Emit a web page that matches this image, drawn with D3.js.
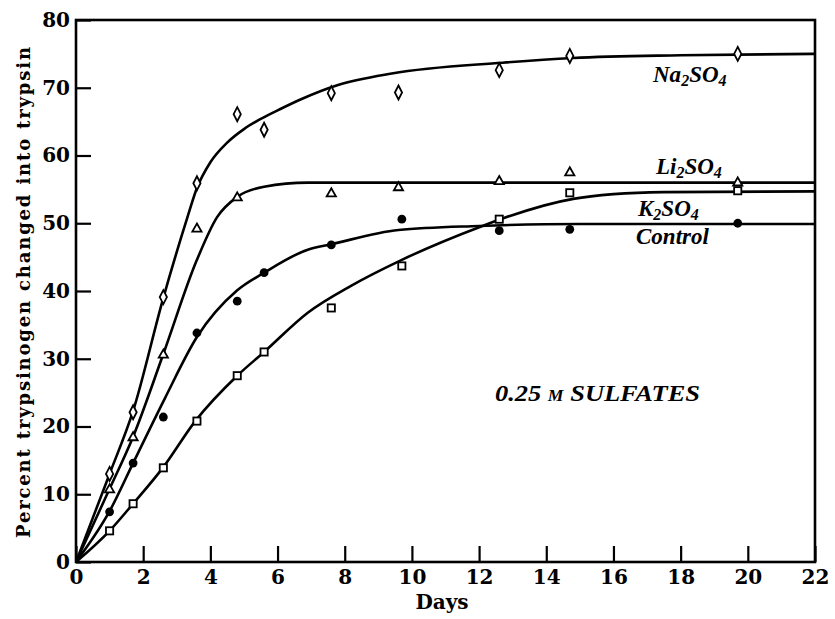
<!DOCTYPE html>
<html>
<head>
<meta charset="utf-8">
<script src="https://cdn.jsdelivr.net/npm/d3@7"></script>
<style>
  body { margin: 0; background: #fff; }
  svg { display: block; }
</style>
</head>
<body>
<svg id="chart" width="835" height="619"></svg>
<script>
// Observed activation (percent trypsinogen converted) by day, per salt
const naDays   = [1.0, 1.7, 2.6, 3.6, 4.8, 5.6, 7.6, 9.6, 12.6, 14.7, 19.7];
const naPct    = [13.0, 22.1, 39.1, 55.9, 66.1, 63.8, 69.2, 69.3, 72.6, 74.7, 75.0];

const liDays   = [1.0, 1.7, 2.6, 3.6, 4.8, 7.6, 9.6, 12.6, 14.7, 19.7];
const liPct    = [10.8, 18.5, 30.7, 49.3, 53.9, 54.5, 55.4, 56.3, 57.6, 56.1];

const kDays    = [1.0, 1.7, 2.6, 3.6, 4.8, 5.6, 7.6, 9.7, 12.6, 14.7, 19.7];
const kPct     = [4.6, 8.6, 13.9, 20.8, 27.5, 31.0, 37.5, 43.7, 50.6, 54.5, 54.8];

const ctlDays  = [1.0, 1.7, 2.6, 3.6, 4.8, 5.6, 7.6, 9.7, 12.6, 14.7, 19.7];
const ctlPct   = [7.4, 14.6, 21.4, 33.8, 38.5, 42.7, 46.8, 50.6, 48.9, 49.1, 50.0];

// Smoothed curves drawn through each series
const naFitDays  = [0, 1.0, 1.7, 2.6, 3.3, 3.6, 4.0, 4.5, 5.0, 5.5, 6.1, 6.7, 7.8, 9.4, 12.7, 14.8, 18, 22];
const naFitPct   = [0, 13.0, 22.3, 39.0, 50.6, 55.2, 59.0, 61.9, 63.9, 65.4, 66.9, 68.3, 70.4, 72.1, 73.7, 74.4, 74.8, 75.0];

const liFitDays  = [0, 1.0, 1.7, 2.6, 3.6, 4.2, 4.8, 5.6, 6.9, 22];
const liFitPct   = [0, 10.8, 18.5, 30.7, 44.6, 50.9, 53.9, 55.4, 56.0, 56.0];

const kFitDays   = [0, 1.0, 1.7, 2.6, 3.55, 4.8, 5.6, 6.9, 8.2, 9.7, 12.1, 12.7, 14.8, 16, 17.5, 22];
const kFitPct    = [0, 4.6, 8.6, 14.0, 20.8, 27.5, 31.0, 36.8, 40.8, 44.6, 49.6, 50.7, 53.6, 54.3, 54.6, 54.7];

const ctlFitDays = [0, 1.0, 1.7, 2.65, 3.6, 4.8, 5.6, 6.9, 7.6, 9.6, 12, 15, 22];
const ctlFitPct  = [0, 7.5, 14.6, 24.2, 33.2, 40.1, 42.7, 46.1, 46.9, 49.0, 49.6, 49.9, 49.9];

const xTicks = [0, 2, 4, 6, 8, 10, 12, 14, 16, 18, 20, 22];
const yTicks = [0, 10, 20, 30, 40, 50, 60, 70, 80];

const svg = d3.select("#chart");
const x = d3.scaleLinear().domain([0, 22]).range([76, 815]);
const y = d3.scaleLinear().domain([0, 80]).range([562, 20]);

const tickFont = "'DejaVu Serif', serif";

// Axes with inward ticks
const xAxis = svg.append("g")
  .attr("transform", `translate(0,${y(0)})`)
  .call(d3.axisBottom(x).tickValues(xTicks).tickSizeInner(-16).tickSizeOuter(0).tickPadding(8));
const yAxis = svg.append("g")
  .attr("transform", `translate(${x(0)},0)`)
  .call(d3.axisLeft(y).tickValues(yTicks).tickSizeInner(-15).tickSizeOuter(0).tickPadding(6));

[xAxis, yAxis].forEach(g => {
  g.select(".domain").remove();
  g.selectAll(".tick line").attr("stroke", "#000").attr("stroke-width", 2.2);
  g.selectAll(".tick text")
    .attr("fill", "#000")
    .style("font-family", tickFont)
    .style("font-weight", "bold")
    .style("font-size", "20px");
});

// Frame
svg.append("rect")
  .attr("x", x(0)).attr("y", y(80))
  .attr("width", x(22) - x(0)).attr("height", y(0) - y(80))
  .attr("fill", "none").attr("stroke", "#000").attr("stroke-width", 2.6);

// Fitted curves
const line = d3.line()
  .x(d => x(d[0])).y(d => y(d[1]))
  .curve(d3.curveMonotoneX);

const fits = [
  [naFitDays, naFitPct],
  [liFitDays, liFitPct],
  [kFitDays, kFitPct],
  [ctlFitDays, ctlFitPct]
];
fits.forEach(([xs, ys]) => {
  svg.append("path")
    .datum(xs.map((d, i) => [d, ys[i]]))
    .attr("d", line)
    .attr("fill", "none")
    .attr("stroke", "#000")
    .attr("stroke-width", 2.6)
    .attr("stroke-linejoin", "round");
});

// Point markers
const zip = (xs, ys) => xs.map((d, i) => [d, ys[i]]);

svg.append("g").selectAll("path")
  .data(zip(naDays, naPct)).join("path")
  .attr("transform", d => `translate(${x(d[0])},${y(d[1])})`)
  .attr("d", "M0,-7L3.6,0L0,7L-3.6,0Z")
  .attr("fill", "#fff").attr("stroke", "#000").attr("stroke-width", 1.8);

svg.append("g").selectAll("path")
  .data(zip(liDays, liPct)).join("path")
  .attr("transform", d => `translate(${x(d[0])},${y(d[1])})`)
  .attr("d", "M0,-4.5L4.6,3.6L-4.6,3.6Z")
  .attr("fill", "#fff").attr("stroke", "#000").attr("stroke-width", 1.8);

svg.append("g").selectAll("rect")
  .data(zip(kDays, kPct)).join("rect")
  .attr("x", d => x(d[0]) - 3.6).attr("y", d => y(d[1]) - 3.6)
  .attr("width", 7.2).attr("height", 7.2)
  .attr("fill", "#fff").attr("stroke", "#000").attr("stroke-width", 1.8);

svg.append("g").selectAll("circle")
  .data(zip(ctlDays, ctlPct)).join("circle")
  .attr("cx", d => x(d[0])).attr("cy", d => y(d[1]))
  .attr("r", 4.4).attr("fill", "#000");

// Series labels with subscripts
const labelFont = "'Liberation Serif', serif";
function formula(px, py, parts) {
  const t = svg.append("text")
    .attr("x", px).attr("y", py)
    .style("font-family", labelFont)
    .style("font-style", "italic")
    .style("font-weight", "bold")
    .style("font-size", "23px")
    .attr("fill", "#000");
  let shifted = false;
  parts.forEach(([s, sub]) => {
    const ts = t.append("tspan").text(s);
    if (sub && !shifted) { ts.attr("dy", 4).style("font-size", "16px"); shifted = true; }
    else if (!sub && shifted) { ts.attr("dy", -4); shifted = false; }
  });
  return t;
}
formula(653, 82, [["Na"], ["2", true], ["SO"], ["4", true]]);
formula(656, 174, [["Li"], ["2", true], ["SO"], ["4", true]]);
formula(638, 216, [["K"], ["2", true], ["SO"], ["4", true]]);
svg.append("text")
  .attr("x", 636).attr("y", 244)
  .style("font-family", labelFont)
  .style("font-style", "italic")
  .style("font-weight", "bold")
  .style("font-size", "23px")
  .text("Control");

// Condition note
const note = svg.append("text")
  .attr("x", 495).attr("y", 401)
  .style("font-family", labelFont)
  .style("font-style", "italic")
  .style("font-weight", "bold")
  .style("font-size", "24px")
  .attr("textLength", 205)
  .attr("lengthAdjust", "spacingAndGlyphs");
note.append("tspan").text("0.25 ");
note.append("tspan").style("font-size", "16px").text("M");
note.append("tspan").text(" SULFATES");

// Axis titles
svg.append("text")
  .attr("transform", `translate(30,${(47 + 538) / 2}) rotate(-90)`)
  .attr("text-anchor", "middle")
  .style("font-family", tickFont)
  .style("font-weight", "bold")
  .style("font-size", "18px")
  .attr("textLength", 491)
  .attr("lengthAdjust", "spacing")
  .text("Percent trypsinogen changed into trypsin");

svg.append("text")
  .attr("x", 442).attr("y", 609)
  .attr("text-anchor", "middle")
  .style("font-family", tickFont)
  .style("font-weight", "bold")
  .style("font-size", "20px")
  .text("Days");
</script>
</body>
</html>
